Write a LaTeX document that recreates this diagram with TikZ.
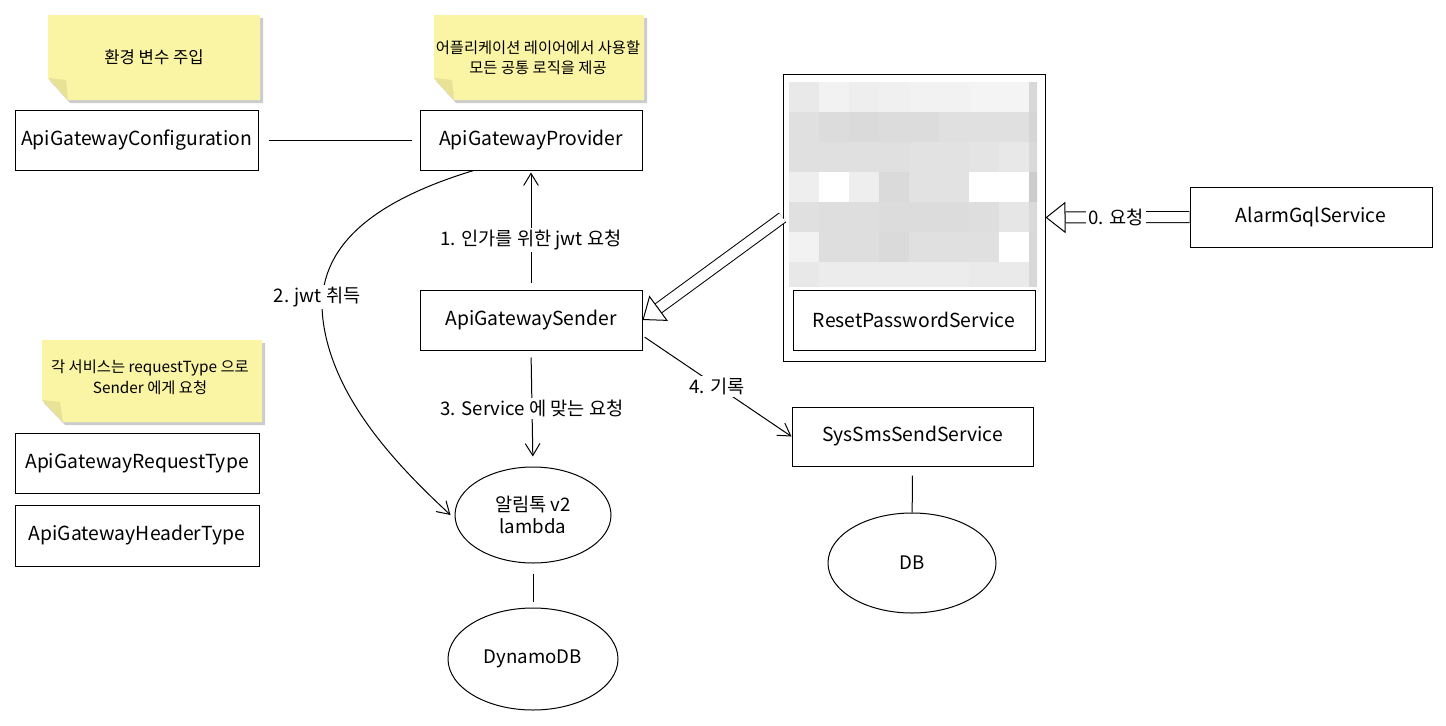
\documentclass[tikz,border=0pt]{standalone}
\usepackage{fontspec}
\setmainfont{Noto Sans CJK KR}
\usetikzlibrary{arrows.meta,shapes.geometric,calc}

\definecolor{notey}{RGB}{250,244,165}
\definecolor{notefold}{RGB}{232,226,150}
\definecolor{noteshadow}{RGB}{204,204,204}

\tikzset{every picture/.style={line width=0.75pt}}
\tikzset{
  box/.style={draw, inner sep=0pt, minimum height=45pt, font=\fontsize{14.5}{17}\selectfont},
  blob/.style={draw, ellipse, inner sep=0pt, align=center, font=\fontsize{14}{17}\selectfont},
  notetext/.style={align=center, inner sep=0pt},
  elabel/.style={fill=white, inner sep=1.5pt, font=\fontsize{14}{16}\selectfont},
  arr/.style={-{Straight Barb[length=9pt,width=11pt]}},
  hollow/.style={double, double distance=7.5pt},
  hollowtip/.style={-{Triangle[open,length=15pt,width=23.5pt]}},
}

\begin{document}
\begin{tikzpicture}[x=0.75pt,y=0.75pt,yscale=-1,xscale=1]
	\useasboundingbox (0,0) rectangle (1446,725);

	%Shape: Note [env]
	\fill[noteshadow] (50,18) -- (263,18) -- (263,103) -- (70,103) -- (50,81) -- cycle;
	\fill[notey] (48,15) -- (260,15) -- (260,100) -- (68,100) -- (48,78) -- cycle;
	\fill[notefold] (48,78) -- (66,80) -- (68,100) -- cycle;
	% Text Node
	\node[notetext, font=\fontsize{12.5}{15}\selectfont] (envnote) at (154,57) {환경 변수 주입};

	%Shape: Note [provider]
	\fill[noteshadow] (436,18) -- (647,18) -- (647,103) -- (456,103) -- (436,81) -- cycle;
	\fill[notey] (434,15) -- (644,15) -- (644,100) -- (454,100) -- (434,78) -- cycle;
	\fill[notefold] (434,78) -- (452,80) -- (454,100) -- cycle;
	% Text Node
	\node[notetext, font=\fontsize{11.5}{15}\selectfont] (provnote) at (538,58) {어플리케이션 레이어에서 사용할\\모든 공통 로직을 제공};

	%Shape: Note [types]
	\fill[noteshadow] (44,343) -- (265,343) -- (265,425) -- (65,425) -- (44,403) -- cycle;
	\fill[notey] (42,340) -- (262,340) -- (262,422) -- (63,422) -- (42,400) -- cycle;
	\fill[notefold] (42,400) -- (60,402) -- (63,422) -- cycle;
	% Text Node
	\node[notetext, font=\fontsize{11.5}{15.75}\selectfont] (typenote) at (150,377) {각 서비스는 requestType 으로\\Sender 에게 요청};

	%Shape: Rectangle
	\node[box, minimum width=182.25pt] (conf) at (136.5,140) {ApiGatewayConfiguration};
	\node[box, minimum width=166.5pt] (prov) at (531,140) {ApiGatewayProvider};
	\node[box, minimum width=166.5pt] (sender) at (531,320) {ApiGatewaySender};
	\node[box, minimum width=183pt] (reqtype) at (137,463) {ApiGatewayRequestType};
	\node[box, minimum width=183pt, minimum height=45.75pt] (hdrtype) at (137,535.5) {ApiGatewayHeaderType};
	\node[box, minimum width=180.75pt, minimum height=44.25pt] (sysms) at (912.5,436.5) {SysSmsSendService};
	\node[box, minimum width=181.5pt] (alarm) at (1311,217) {AlarmGqlService};

	%Shape: Rectangle [service group]
	\node[draw, inner sep=0pt, minimum width=196.5pt, minimum height=215.25pt] (svcgroup) at (914,217.5) {};
	%Shape: blurred capture
	\begin{scope}
	\clip (789,82) rectangle (1037,286);
	\foreach \row [count=\r from 0] in {{233,242,238,240,242,242,244,244,216},{224,220,218,220,220,224,224,224,214},{224,224,224,224,226,226,228,232,218},{238,255,238,218,226,226,255,255,204},{224,222,222,220,220,220,222,230,218},{242,222,222,218,224,224,224,255,216},{232,236,236,236,236,236,234,234,216}}
		\foreach \g [count=\c from 0] in \row
			\fill[fill={rgb,255:red,\g;green,\g;blue,\g}] (789+30*\c,82+30*\r) rectangle ++(30,30);
	\end{scope}
	\node[box, minimum width=181.5pt] (reset) at (914,320) {ResetPasswordService};

	%Shape: Ellipse
	\node[blob, minimum width=117pt, minimum height=72pt] (lambda) at (533,515) {알림톡 v2\\lambda};
	\node[blob, minimum width=127.5pt, minimum height=76.5pt] (dynamo) at (533,659) {DynamoDB};
	\node[blob, minimum width=126pt, minimum height=75pt] (db) at (912,563) {DB};

	%Straight Lines
	\draw[shorten <=7.5pt, shorten >=6pt] (conf) -- (prov);
	\draw[arr, shorten <=5.25pt, shorten >=1.5pt] (sender.north) -- (prov.south) node[elabel, pos=0.42] {1. 인가를 위한 jwt 요청};
	%Curve Lines
	\draw[arr] (prov.208) .. controls (360,205) and (315,255) .. (323,320) node[elabel, pos=0.88, xshift=-4pt] {2. jwt 취득} .. controls (333,400) and (400,468) .. ([xshift=-3pt]lambda.west);
	%Straight Lines
	\draw[arr, shorten <=5.25pt, shorten >=7.5pt] (sender.south) -- (lambda.north) node[elabel, pos=0.5] {3. Service 에 맞는 요청};
	\draw[arr, shorten <=2pt] (sender.352) -- (sysms.west) node[elabel, pos=0.5] {4. 기록};
	\draw[shorten <=7.5pt, shorten >=4.5pt] (lambda) -- (dynamo);
	\draw[shorten <=6.75pt] (sysms) -- (db);

	%Hollow Arrows
	\draw[hollow, shorten >=15pt] (alarm.west) -- (svcgroup.east) node[elabel, pos=0.51] {0. 요청};
	\draw[hollowtip] ($(svcgroup.east)!15pt!(alarm.west)$) -- (svcgroup.east);
	\draw[hollow, shorten >=15pt] (svcgroup.west) -- (sender.east);
	\draw[hollowtip] ($(sender.east)!15pt!(svcgroup.west)$) -- (sender.east);

\end{tikzpicture}
\end{document}
